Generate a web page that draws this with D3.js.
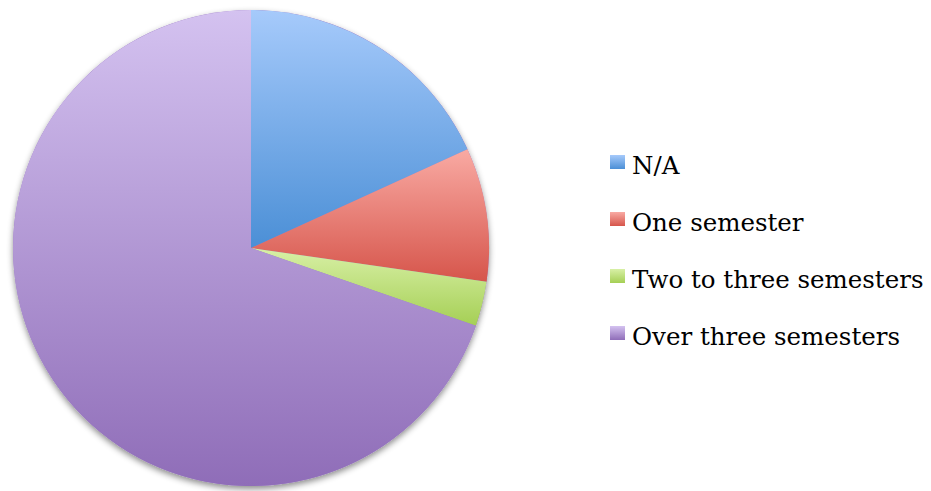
<!DOCTYPE html>
<html><head><meta charset="utf-8">
<script src="https://cdn.jsdelivr.net/npm/d3@7"></script>
<style>html,body{margin:0;padding:0;background:#fff;}svg{display:block;}</style>
</head><body>
<svg id="chart" width="931" height="491"></svg>
<script>
const categories = ["N/A", "One semester", "Two to three semesters", "Over three semesters"];
const values = [12, 6, 2, 46];
const topColors = ["#a6cafb", "#f9aaa3", "#d8f0a6", "#d4c2f0"];
const bottomColors = ["#4b8fd6", "#d6554b", "#a5cf55", "#8f6db8"];

const svg = d3.select("#chart");
const cx = 251, cy = 248, r = 238;
const defs = svg.append("defs");

categories.forEach((c, i) => {
  const g = defs.append("linearGradient").attr("id", "grad" + i)
    .attr("x1", 0).attr("y1", 0).attr("x2", 0).attr("y2", 1);
  g.append("stop").attr("offset", "0%").attr("stop-color", topColors[i]);
  g.append("stop").attr("offset", "100%").attr("stop-color", bottomColors[i]);
});

const f = defs.append("filter").attr("id", "shadow")
  .attr("x", "-10%").attr("y", "-10%").attr("width", "120%").attr("height", "120%");
f.append("feDropShadow").attr("dx", 0).attr("dy", 3).attr("stdDeviation", 3)
  .attr("flood-color", "#000").attr("flood-opacity", 0.45);

const pie = d3.pie().sort(null).value(d => d);
const arc = d3.arc().innerRadius(0).outerRadius(r);

const gPie = svg.append("g").attr("transform", `translate(${cx},${cy})`);
gPie.append("circle").attr("r", r).attr("fill", "#9a7bc2").attr("filter", "url(#shadow)");
gPie.selectAll("path").data(pie(values)).enter().append("path")
  .attr("d", arc)
  .attr("fill", (d, i) => `url(#grad${i})`);

const legend = svg.append("g");
const ly0 = 174, ldy = 57;
categories.forEach((c, i) => {
  const y = ly0 + i * ldy;
  legend.append("rect").attr("x", 610).attr("y", y - 19).attr("width", 15).attr("height", 14)
    .attr("fill", `url(#grad${i})`);
  legend.append("text").attr("x", 632).attr("y", y)
    .attr("font-family", "'DejaVu Serif', serif").attr("font-size", 24.5)
    .attr("fill", "#000").text(c);
});
</script>
</body></html>
